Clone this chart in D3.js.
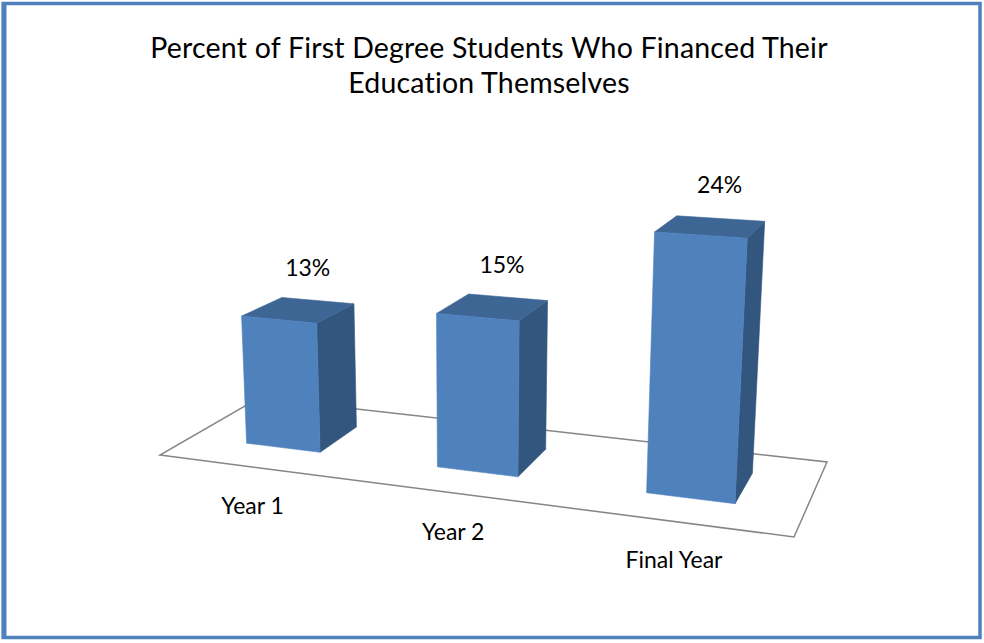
<!DOCTYPE html>
<html>
<head>
<meta charset="utf-8">
<script src="https://cdn.jsdelivr.net/npm/d3@7/dist/d3.min.js"></script>
<style>
  html, body { margin: 0; padding: 0; background: #ffffff; }
  svg { display: block; }
  text { font-family: Lato, "Open Sans", sans-serif; fill: #000000; }
</style>
</head>
<body>
<svg id="chart" width="984" height="643"></svg>
<script>
// ---- data ----
const titleLines = ["Percent of First Degree Students Who Financed Their", "Education Themselves"];
const categories = ["Year 1", "Year 2", "Final Year"];
const values = [13, 15, 24];
const valueLabels = values.map(v => v + "%");

// ---- layout ----
const svg = d3.select("#chart");

// Floor plane of the 3-D plot on screen (front-left, front-right, back-right, back-left)
const floorQuad = [[160, 455], [794, 537], [827, 462], [259, 398]];
// Vanishing point of the vertical edges
const vertVP = [473, 6189];

// Homography mapping the unit square (u along categories, v into depth) onto floorQuad
function squareToQuad(q) {
  const [x0, y0] = q[0], [x1, y1] = q[1], [x2, y2] = q[2], [x3, y3] = q[3];
  const dx1 = x1 - x2, dx2 = x3 - x2, dx3 = x0 - x1 + x2 - x3;
  const dy1 = y1 - y2, dy2 = y3 - y2, dy3 = y0 - y1 + y2 - y3;
  const den = dx1 * dy2 - dx2 * dy1;
  const g = (dx3 * dy2 - dx2 * dy3) / den;
  const h = (dx1 * dy3 - dx3 * dy1) / den;
  return {
    a: x1 - x0 + g * x1, b: x3 - x0 + h * x3, c: x0,
    d: y1 - y0 + g * y1, e: y3 - y0 + h * y3, f: y0,
    g, h
  };
}
const Hm = squareToQuad(floorQuad);

// Scales: categories across the floor, values up the vertical axis
const x = d3.scaleBand().domain(categories).range([0, 1]).padding(0);
const barWidth = x.bandwidth() * 0.396;
const depth = [0.30, 0.72];
const y = d3.scaleLinear().domain([0, 30]).range([0, 30 * 0.001704]);

// Project a world point (u, v, height in value units) to the screen
function project(u, v, val) {
  const k = -y(val);
  const X = Hm.a * u + Hm.b * v + Hm.c + k * vertVP[0];
  const Y = Hm.d * u + Hm.e * v + Hm.f + k * vertVP[1];
  const Wt = Hm.g * u + Hm.h * v + 1 + k;
  return [X / Wt, Y / Wt];
}
const line = d3.line();
const poly = pts => line(pts) + "Z";

// ---- frame ----
const frame = svg.append("g").attr("stroke", "#4f81bd").attr("fill", "none");
frame.append("rect").attr("x", 3.5).attr("y", 3.5).attr("width", 976.5).attr("height", 634).attr("stroke-width", 3.5);
frame.append("line").attr("x1", 4).attr("x2", 4).attr("y1", 2).attr("y2", 639).attr("stroke-width", 5);

// ---- title ----
svg.append("g").selectAll("text").data(titleLines).join("text")
  .attr("x", 489)
  .attr("y", (d, i) => 58 + i * 35)
  .attr("text-anchor", "middle")
  .attr("font-size", 28.5)
  .attr("letter-spacing", 0.2)
  .text(d => d);

// ---- floor ----
const floorPts = [[0, 0], [1, 0], [1, 1], [0, 1]].map(p => project(p[0], p[1], 0));
svg.append("path")
  .attr("d", poly(floorPts))
  .attr("fill", "#ffffff")
  .attr("stroke", "#868686")
  .attr("stroke-width", 1.5)
  .attr("stroke-linejoin", "miter");

// ---- bars ----
const bars = svg.append("g").selectAll("g")
  .data(categories.map((c, i) => ({ c, v: values[i], label: valueLabels[i] })))
  .join("g");

bars.each(function (d) {
  const g = d3.select(this);
  const uc = x(d.c) + x.bandwidth() / 2;
  const u0 = uc - barWidth / 2, u1 = uc + barWidth / 2;
  const [v0, v1] = depth;
  const front = [[u0, v0, 0], [u1, v0, 0], [u1, v0, d.v], [u0, v0, d.v]];
  const side = [[u1, v0, 0], [u1, v1, 0], [u1, v1, d.v], [u1, v0, d.v]];
  const top = [[u0, v0, d.v], [u1, v0, d.v], [u1, v1, d.v], [u0, v1, d.v]];
  const faces = [
    { pts: side, fill: "#33567f" },
    { pts: top, fill: "#3d6695" },
    { pts: front, fill: "#4f81bd" }
  ];
  g.selectAll("path").data(faces).join("path")
    .attr("d", f => poly(f.pts.map(p => project(p[0], p[1], p[2]))))
    .attr("fill", f => f.fill)
    .attr("stroke", f => f.fill)
    .attr("stroke-width", 0.6)
    .attr("stroke-linejoin", "round");

  // value label above the top face
  const tc = project(uc, (v0 + v1) / 2, d.v);
  g.append("text")
    .attr("x", tc[0] + 9)
    .attr("y", tc[1] - 34)
    .attr("text-anchor", "middle")
    .attr("font-size", 23)
    .text(d.label);

  // category label under the front edge of the floor
  const fc = project(uc, 0, 0);
  g.append("text")
    .attr("x", fc[0] - 1)
    .attr("y", fc[1] + 46.5)
    .attr("text-anchor", "middle")
    .attr("font-size", 23)
    .text(d.c);
});
</script>
</body>
</html>
